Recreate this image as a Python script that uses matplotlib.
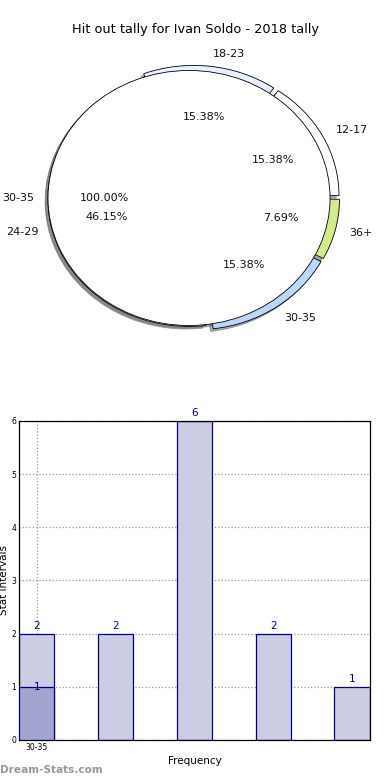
import matplotlib
matplotlib.use("Agg")
import matplotlib.pyplot as plt

title = "Hit out tally for Ivan Soldo - 2018 tally"
pie_labels = ["12-17", "18-23", "24-29", "30-35", "36+"]
pie_values = [2, 2, 6, 2, 1]
pie_colors = ["#ffffff", "#e8efff", "#ffffff", "#bcd7f9", "#d3ea8e"]
pie_explode = [0.04, 0.04, 0.03, 0.04, 0.04]

inner_labels = ["30-35"]
inner_values = [1]

bar_values = [2, 2, 6, 2, 1]
bar_values2 = [1]
xtick_labels = ["30-35"]

fig = plt.figure(figsize=(3.9, 7.8), dpi=100)

# ---- pie ----
axp = fig.add_axes([0.0327, 0.5418, 0.904, 0.4087])
shadow = {"ox": -0.014, "oy": -0.015, "shade": 0.6}
axp.pie(pie_values, labels=pie_labels, colors=pie_colors, explode=pie_explode,
        autopct="%.2f%%", startangle=0, counterclock=True, shadow=shadow,
        center=(0.028, 0.0),
        wedgeprops=dict(edgecolor="black", linewidth=0.6),
        textprops=dict(fontsize=8, color="#111111"))
axp.pie(inner_values, labels=inner_labels, colors=["#ffffff"],
        autopct="%.2f%%", startangle=0, shadow=shadow,
        wedgeprops=dict(edgecolor="black", linewidth=0.6),
        textprops=dict(fontsize=8, color="#111111"))
axp.set_aspect("auto")
axp.set_xlim(-1.25, 1.25)
axp.set_ylim(-1.25, 1.25)
fig.text(0.5, 1 - 30 / 780, title, ha="center", va="center", fontsize=9.3)

# ---- bars ----
axb = fig.add_axes([0.0487, 0.0513, 0.9, 0.409])
x = list(range(len(bar_values)))
w = 0.45
axb.bar(x, bar_values, width=w, color="#ccccE4", edgecolor="#000080", linewidth=0.9, zorder=2)
axb.bar(list(range(len(bar_values2))), bar_values2, width=w, color="#a3a3cf",
        edgecolor="#000080", linewidth=0.9, zorder=3)
for xi, v in zip(x, bar_values):
    axb.text(xi, v + 0.05, str(v), ha="center", va="bottom", fontsize=7.5, color="#000080", zorder=4)
for xi, v in enumerate(bar_values2):
    axb.text(xi, v, str(v), ha="center", va="center", fontsize=7.5, color="#000080", zorder=4)
axb.set_xlim(-w / 2, len(bar_values) - 1 + w / 2)
axb.set_ylim(0, 6)
axb.set_xticks([0])
axb.set_xticklabels(xtick_labels)
axb.set_yticks(range(0, 7))
axb.tick_params(axis="both", labelsize=5.5, length=0, pad=2)
axb.grid(True, linestyle=":", color="#999999", linewidth=0.9, zorder=0)
axb.set_axisbelow(True)
axb.set_xlabel("Frequency", fontsize=7.5, labelpad=3)
axb.set_ylabel("Stat intervals", fontsize=7.5, labelpad=2)
for s in axb.spines.values():
    s.set_linewidth(0.9)

fig.text(0.0, 1 - 770 / 780, "Dream-Stats.com", ha="left", va="center",
         fontsize=7.6, color="#999999", fontweight="bold")

fig.savefig("out.png", dpi=100)
